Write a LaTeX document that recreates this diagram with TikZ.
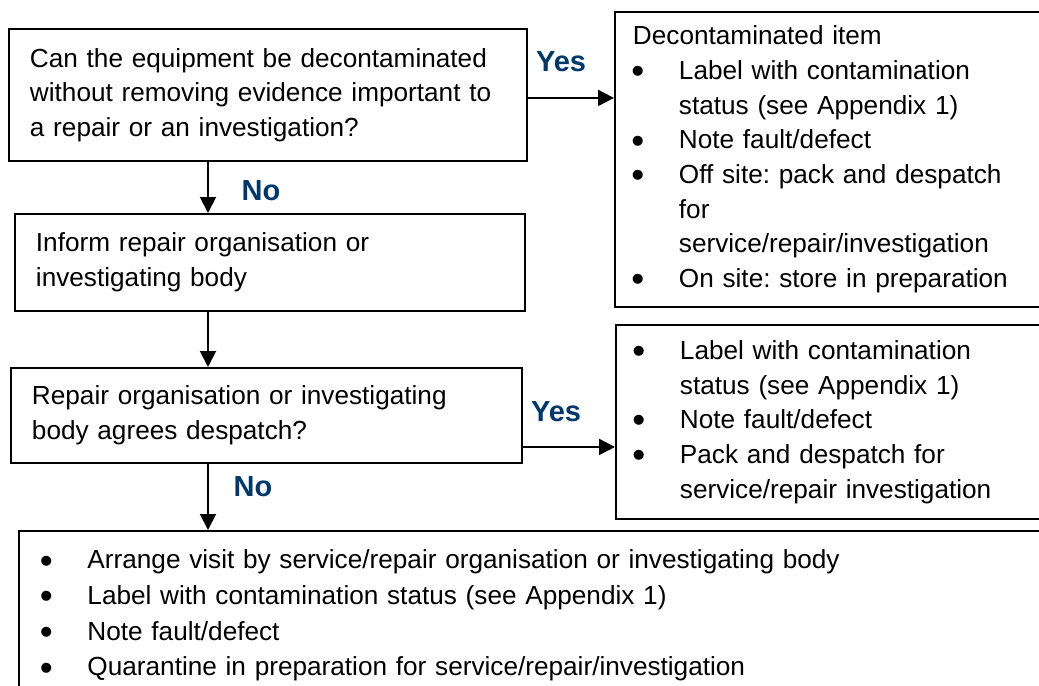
\documentclass[tikz,border=0pt]{standalone}
\usepackage{fontspec}
\setmainfont{Liberation Sans}
\usepackage{xcolor}
\usetikzlibrary{arrows.meta}
\definecolor{yesno}{RGB}{0,56,108}
\frenchspacing
\newcommand{\bul}{\makebox[0.92cm][l]{\hspace{-0.03cm}\raisebox{-0.16em}{\fontsize{21}{21}\selectfont\textbullet}}}
\newcommand{\ind}{\hspace*{0.92cm}}

\begin{document}
\begin{tikzpicture}[x=0.02cm, y=-0.02cm,
	every node/.style={font=\fontsize{14.9}{19.75}\selectfont},
	box/.style={draw, line width=1.1pt, anchor=north west, align=left, inner xsep=0.42cm},
	lbl/.style={font=\fontsize{16.5}{19}\selectfont\bfseries, text=yesno, inner sep=0pt},
	arr/.style={-{Triangle[length=0.32cm,width=0.32cm]}, line width=1.1pt}]
	\useasboundingbox (0,0) rectangle (1039,686);
	\clip (0,0) rectangle (1039,686);
	% Left column
	\node[box, text width=9.52cm, minimum height=2.64cm] (quest) at (8,28)
		{Can the equipment be decontaminated\\ without removing evidence important to\\ a repair or an investigation?};
	\node[box, text width=9.36cm, minimum height=1.94cm] (inform) at (14,213)
		{Inform repair organisation or\\ investigating body};
	\node[box, text width=9.38cm, minimum height=1.9cm] (agree) at (10,367)
		{Repair organisation or investigating\\ body agrees despatch?};
	% Right column
	\node[box, inner xsep=0.36cm, text width=8.28cm, minimum height=5.9cm] (item) at (614,11)
		{Decontaminated item\\
		\bul Label with contamination\\
		\ind status (see Appendix 1)\\
		\bul Note fault/defect\\
		\bul Off site: pack and despatch\\
		\ind for\\
		\ind service/repair/investigation\\
		\bul On site: store in preparation};
	\node[box, inner xsep=0.36cm, text width=8.28cm, minimum height=3.88cm] (pack) at (615,324)
		{\bul Label with contamination\\
		\ind status (see Appendix 1)\\
		\bul Note fault/defect\\
		\bul Pack and despatch for\\
		\ind service/repair investigation};
	% Bottom box
	\node[box, inner xsep=0.45cm, inner ysep=0.38cm, text width=19.94cm,
		font=\fontsize{14.9}{20.3}\selectfont] (quar) at (18,530)
		{\bul Arrange visit by service/repair organisation or investigating body\\
		\bul Label with contamination status (see Appendix 1)\\
		\bul Note fault/defect\\
		\bul Quarantine in preparation for service/repair/investigation};
	% Connectors
	\coordinate (spine) at (208,0);
	\coordinate (ya) at ([yshift=-0.06cm]quest.east);
	\coordinate (yb) at ([yshift=-0.63cm]agree.east);
	\draw[arr] (spine |- quest.south) -- (spine |- inform.north);
	\draw[arr] (spine |- inform.south) -- (spine |- agree.north);
	\draw[arr] (spine |- agree.south) -- (spine |- quar.north);
	\draw[arr] (ya) -- (ya -| item.west);
	\draw[arr] (yb) -- (yb -| pack.west);
	% Labels
	\node[lbl] (yes1) at (561,62) {Yes};
	\node[lbl] (no1) at (261,191) {No};
	\node[lbl] (yes2) at (556,412) {Yes};
	\node[lbl] (no2) at (253,487) {No};
\end{tikzpicture}
\end{document}
